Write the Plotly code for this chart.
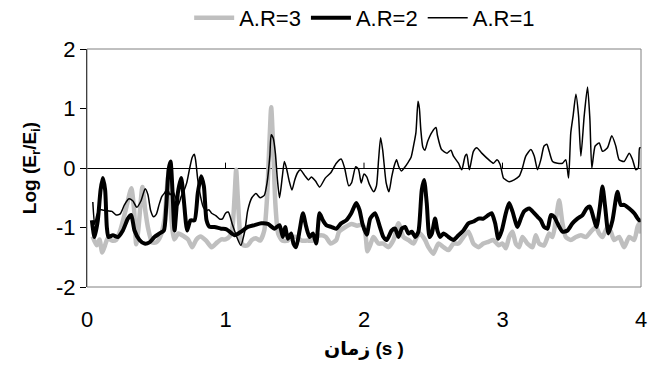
import plotly.graph_objects as go

# ---- data ----
t_ar3 = [0.04, 0.07, 0.09, 0.11, 0.13, 0.15, 0.18, 0.21, 0.24, 0.28, 0.32, 0.34, 0.355, 0.37, 0.40, 0.42,
         0.44, 0.47, 0.50, 0.53, 0.56, 0.585, 0.60, 0.63, 0.66, 0.70, 0.73, 0.76, 0.79, 0.82, 0.86, 0.90,
         0.94, 0.97, 1.00, 1.03, 1.05, 1.065, 1.077, 1.09, 1.11, 1.13, 1.16, 1.19, 1.22, 1.25, 1.28, 1.30,
         1.315, 1.33, 1.345, 1.36, 1.38, 1.41, 1.45, 1.48, 1.51, 1.55, 1.59, 1.63, 1.655, 1.69, 1.725,
         1.76, 1.80, 1.82, 1.86, 1.91, 1.95, 1.99, 2.01, 2.025, 2.044, 2.068, 2.104, 2.14, 2.176, 2.213,
         2.249, 2.285, 2.321, 2.357, 2.381, 2.405, 2.441, 2.465, 2.501, 2.537, 2.574, 2.61, 2.646, 2.682,
         2.718, 2.754, 2.79, 2.826, 2.862, 2.898, 2.935, 2.971, 3.0, 3.024, 3.048, 3.072, 3.096, 3.12,
         3.144, 3.18, 3.217, 3.24, 3.265, 3.30, 3.337, 3.361, 3.385, 3.409, 3.433, 3.457, 3.493, 3.53,
         3.566, 3.602, 3.638, 3.674, 3.698, 3.722, 3.758, 3.782, 3.806, 3.842, 3.878, 3.915, 3.951,
         3.975, 3.99, 4.0]
v_ar3 = [-1.15, -1.30, -1.20, -1.42, -1.30, -1.18, -1.22, -1.21, -1.05, -0.70, -0.34, -0.70, -1.28, -1.05,
         -0.32, -0.70, -1.00, -1.25, -1.25, -1.15, -0.85, -0.15, -0.60, -1.20, -1.10, -1.15, -1.20, -1.33,
         -1.20, -1.15, -1.22, -1.33, -1.25, -1.20, -1.20, -1.15, -1.00, -0.50, -0.03, -0.55, -1.20, -1.30,
         -1.30, -1.21, -1.18, -1.22, -1.05, -0.50, 0.30, 1.02, 0.30, -0.60, -1.10, -1.22, -1.22, -1.16,
         -1.16, -1.22, -1.22, -1.22, -1.16, -1.13, -1.16, -1.27, -1.21, -1.07, -1.00, -0.94, -0.97, -0.95,
         -1.10, -1.40, -1.30, -1.16, -1.27, -1.27, -1.33, -1.21, -0.93, -1.16, -1.21, -1.27, -1.16, -1.10,
         -1.21, -1.33, -1.44, -1.27, -1.33, -1.38, -1.27, -1.27, -1.16, -1.07, -1.27, -1.33, -1.27, -1.24,
         -1.21, -1.30, -1.27, -1.35, -1.16, -1.07, -1.27, -1.33, -1.16, -1.27, -1.33, -1.13, -1.27, -1.30,
         -1.10, -1.16, -0.88, -0.54, -0.93, -1.16, -1.21, -1.16, -1.13, -1.16, -1.07, -0.99, -1.10, -1.16,
         -0.99, -1.07, -1.21, -1.16, -1.33, -1.16, -1.21, -0.99, -0.93, -1.10]

t_ar2 = [0.035, 0.054, 0.078, 0.098, 0.114, 0.131, 0.143, 0.155, 0.187, 0.223, 0.259, 0.295, 0.319, 0.343,
         0.379, 0.415, 0.451, 0.487, 0.524, 0.555, 0.572, 0.589, 0.603, 0.617, 0.632, 0.656, 0.68, 0.699,
         0.723, 0.747, 0.776, 0.80, 0.824, 0.844, 0.863, 0.885, 0.92, 0.969, 1.007, 1.065, 1.113, 1.161,
         1.21, 1.258, 1.306, 1.354, 1.39, 1.414, 1.431, 1.45, 1.474, 1.491, 1.51, 1.535, 1.559, 1.583,
         1.607, 1.631, 1.655, 1.679, 1.703, 1.727, 1.763, 1.799, 1.835, 1.871, 1.908, 1.944, 1.968, 1.99,
         2.02, 2.045, 2.08, 2.116, 2.14, 2.164, 2.20, 2.225, 2.249, 2.273, 2.297, 2.32, 2.345, 2.37, 2.393,
         2.417, 2.434, 2.453, 2.473, 2.49, 2.513, 2.53, 2.55, 2.574, 2.61, 2.646, 2.682, 2.718, 2.754, 2.79,
         2.826, 2.862, 2.898, 2.922, 2.947, 2.97, 2.995, 3.024, 3.048, 3.072, 3.108, 3.132, 3.156, 3.193,
         3.229, 3.253, 3.277, 3.30, 3.325, 3.349, 3.373, 3.397, 3.433, 3.469, 3.505, 3.541, 3.578, 3.607,
         3.631, 3.655, 3.679, 3.703, 3.722, 3.741, 3.765, 3.794, 3.83, 3.854, 3.878, 3.915, 3.951, 3.987,
         4.0]
v_ar2 = [-0.88, -1.16, -0.88, -0.37, -0.17, -0.37, -0.99, -1.16, -1.13, -1.16, -1.05, -0.85, -0.79, -1.05,
         -1.21, -1.27, -1.25, -1.16, -1.10, -1.05, -0.65, -0.03, 0.11, -0.37, -1.05, -0.42, -0.17, -0.54,
         -1.05, -0.88, -0.88, -0.42, -0.14, -0.31, -0.88, -0.99, -0.99, -1.02, -1.03, -1.13, -1.07, -0.99,
         -0.96, -0.93, -0.94, -1.02, -0.96, -1.16, -0.99, -1.19, -1.10, -1.27, -1.33, -1.05, -0.76, -0.99,
         -1.16, -1.10, -1.27, -0.76, -0.88, -0.96, -0.99, -1.02, -0.93, -0.88, -0.76, -0.59, -0.71, -0.95,
         -1.12, -0.85, -0.76, -1.00, -1.16, -1.21, -1.05, -1.02, -1.16, -1.02, -0.99, -1.10, -1.07, -1.16,
         -1.07, -0.37, -0.20, -0.59, -1.16, -1.10, -0.85, -1.05, -1.16, -1.10, -1.16, -1.21, -1.13, -1.05,
         -0.93, -0.90, -0.85, -0.85, -0.79, -0.76, -0.93, -1.19, -1.05, -0.76, -0.59, -0.73, -0.99, -0.85,
         -0.73, -0.68, -0.76, -0.82, -0.88, -0.99, -1.02, -0.79, -0.82, -0.93, -1.07, -1.05, -0.93, -0.85,
         -0.79, -0.68, -0.65, -0.82, -0.99, -0.65, -0.31, -0.65, -1.10, -0.88, -0.40, -0.62, -0.62, -0.68,
         -0.76, -0.88, -0.87]

t_ar1 = [0.042, 0.055, 0.07, 0.09, 0.12, 0.15, 0.18, 0.21, 0.24, 0.27, 0.30, 0.33, 0.36, 0.39, 0.42, 0.44,
         0.46, 0.48, 0.50, 0.52, 0.54, 0.56, 0.58, 0.60, 0.62, 0.64, 0.66, 0.68, 0.70, 0.72, 0.74, 0.76,
         0.775, 0.785, 0.80, 0.82, 0.84, 0.86, 0.88, 0.90, 0.93, 0.96, 0.98, 1.00, 1.02, 1.05, 1.08, 1.11,
         1.14, 1.16, 1.19, 1.22, 1.25, 1.28, 1.30, 1.32, 1.33, 1.345, 1.36, 1.375, 1.39, 1.41, 1.425, 1.44,
         1.46, 1.48, 1.50, 1.52, 1.54, 1.57, 1.60, 1.62, 1.65, 1.68, 1.72, 1.76, 1.80, 1.835, 1.86, 1.89,
         1.91, 1.94, 1.96, 1.98, 2.00, 2.02, 2.04, 2.07, 2.09, 2.105, 2.12, 2.135, 2.16, 2.18, 2.20, 2.22,
         2.235, 2.25, 2.27, 2.29, 2.32, 2.34, 2.36, 2.375, 2.39, 2.40, 2.41, 2.425, 2.44, 2.46, 2.49, 2.52,
         2.53, 2.56, 2.60, 2.627, 2.646, 2.682, 2.706, 2.73, 2.742, 2.761, 2.79, 2.814, 2.85, 2.90, 2.935,
         2.96, 2.983, 3.007, 3.024, 3.048, 3.084, 3.12, 3.144, 3.168, 3.205, 3.229, 3.253, 3.277, 3.30,
         3.32, 3.337, 3.361, 3.397, 3.433, 3.457, 3.477, 3.493, 3.51, 3.53, 3.549, 3.566, 3.59, 3.614,
         3.631, 3.645, 3.669, 3.698, 3.722, 3.758, 3.789, 3.818, 3.842, 3.878, 3.915, 3.939, 3.963, 3.98,
         3.99, 4.0]
v_ar1 = [-0.57, -0.95, -0.80, -0.70, -0.71, -0.72, -0.73, -0.79, -0.77, -0.62, -0.52, -0.55, -0.66, -0.55,
         -0.35, -0.45, -0.72, -0.82, -0.78, -0.62, -0.48, -0.42, -0.35, -0.45, -0.40, -0.50, -0.62, -0.48,
         -0.38, -0.25, -0.02, 0.18, 0.23, 0.12, -0.20, -0.48, -0.66, -0.72, -0.70, -0.76, -0.80, -0.86,
         -0.85, -0.76, -0.74, -0.95, -1.15, -1.30, -1.05, -0.72, -0.50, -0.43, -0.50, -0.46, -0.25, 0.20,
         0.56, 0.50, 0.25, -0.20, -0.50, -0.15, 0.11, 0.00, -0.22, -0.37, -0.20, -0.08, -0.03, -0.12, -0.20,
         -0.15, -0.22, -0.32, -0.17, -0.08, 0.08, 0.15, 0.00, -0.30, -0.25, 0.02, -0.02, -0.25, -0.10,
         -0.15, -0.28, -0.40, -0.30, 0.13, 0.51, 0.30, -0.25, -0.40, -0.15, 0.05, 0.14, 0.03, -0.05, 0.00,
         0.10, 0.18, 0.40, 0.60, 1.12, 1.00, 0.65, 0.35, 0.30, 0.45, 0.60, 0.68, 0.55, 0.31, 0.25, 0.30,
         0.20, 0.08, -0.03, 0.20, 0.23, -0.03, 0.28, 0.34, 0.25, 0.14, 0.08, 0.14, 0.06, -0.17, -0.20,
         -0.23, -0.20, -0.14, 0.00, 0.20, 0.31, 0.20, -0.03, 0.14, 0.37, 0.40, 0.28, 0.11, 0.08, 0.08,
         0.14, -0.17, 0.59, 0.88, 1.24, 0.88, 0.20, 0.88, 1.36, 0.82, 0.00, 0.37, 0.42, 0.28, 0.34, 0.54,
         0.37, 0.14, 0.11, 0.25, 0.14, -0.03, 0.00, 0.34, 0.34]

x_ticks = [0, 1, 2, 3, 4]
y_ticks = [-2, -1, 0, 1, 2]

FONT = "Liberation Sans, Arial, DejaVu Sans, sans-serif"

fig = go.Figure()
fig.add_trace(go.Scatter(x=t_ar3, y=v_ar3, mode="lines", name="A.R=3",
                         line=dict(color="#BFBFBF", width=4.5, shape="spline", smoothing=0.6)))
fig.add_trace(go.Scatter(x=t_ar2, y=v_ar2, mode="lines", name="A.R=2",
                         line=dict(color="#000000", width=4, shape="spline", smoothing=0.6)))
fig.add_trace(go.Scatter(x=t_ar1, y=v_ar1, mode="lines", name="A.R=1",
                         line=dict(color="#000000", width=1.5, shape="spline", smoothing=0.6)))

# small tick marks on the zero line (axis crossing at y=0)
for xt in x_ticks[1:-1]:
    fig.add_shape(type="line", xref="x", yref="y", x0=xt, x1=xt, y0=0, y1=0.09,
                  line=dict(color="black", width=1))
# gray frame of the plot area
fig.add_shape(type="rect", xref="paper", yref="paper", x0=0, x1=1, y0=0, y1=1,
              line=dict(color="#808080", width=1), layer="above")

fig.update_layout(
    width=650, height=376,
    margin=dict(l=87, r=9, t=49, b=89, autoexpand=False),
    paper_bgcolor="white", plot_bgcolor="white",
    font=dict(family=FONT, color="black", size=22),
    showlegend=True,
    legend=dict(orientation="h", x=0.818, xanchor="right",
                yref="container", y=0.952, yanchor="middle",
                font=dict(size=22), itemwidth=40, tracegroupgap=0,
                bgcolor="rgba(0,0,0,0)"),
    xaxis=dict(range=[0, 4], tickvals=x_ticks, ticktext=[str(v) for v in x_ticks],
               showgrid=False, zeroline=False, showline=False, automargin=False,
               ticks="outside", ticklen=13, tickcolor="rgba(0,0,0,0)",
               tickfont=dict(size=22),
               title=dict(text="<b>زمان (s )</b>", font=dict(size=19), standoff=10)),
    yaxis=dict(range=[-2, 2], tickvals=y_ticks, ticktext=[str(v) for v in y_ticks],
               showgrid=False, zeroline=True, zerolinecolor="black", zerolinewidth=1,
               showline=True, linecolor="black", linewidth=1, automargin=False,
               ticks="outside", ticklen=6, tickcolor="black",
               tickfont=dict(size=22),
               title=dict(text="<b>Log (E<sub>r</sub>/E<sub>i</sub>)</b>", font=dict(size=19), standoff=14)),
)

fig.write_html("out.html")
